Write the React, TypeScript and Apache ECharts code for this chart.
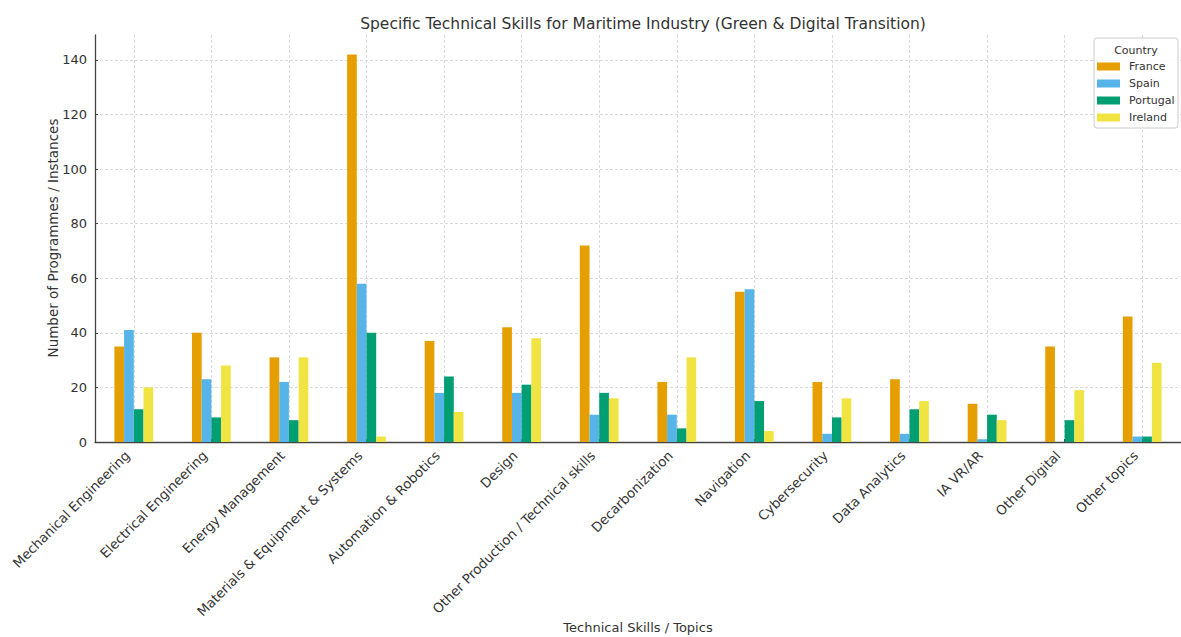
import React, { useEffect, useRef } from "react";
import * as echarts from "echarts";

const categories = [
  "Mechanical Engineering",
  "Electrical Engineering",
  "Energy Management",
  "Materials & Equipment & Systems",
  "Automation & Robotics",
  "Design",
  "Other Production / Technical skills",
  "Decarbonization",
  "Navigation",
  "Cybersecurity",
  "Data Analytics",
  "IA VR/AR",
  "Other Digital",
  "Other topics",
];

const france = [35, 40, 31, 142, 37, 42, 72, 22, 55, 22, 23, 14, 35, 46];
const spain = [41, 23, 22, 58, 18, 18, 10, 10, 56, 3, 3, 1, 0, 2];
const portugal = [12, 9, 8, 40, 24, 21, 18, 5, 15, 9, 12, 10, 8, 2];
const ireland = [20, 28, 31, 2, 11, 38, 16, 31, 4, 16, 15, 8, 19, 29];

const countries = ["France", "Spain", "Portugal", "Ireland"];
const colors = ["#E69F00", "#56B4E9", "#009E73", "#F0E442"];
const yTicks = [0, 20, 40, 60, 80, 100, 120, 140];
const xAxisTitle = "Technical Skills / Topics";
const yAxisTitle = "Number of Programmes / Instances";

export default function App() {
  const ref = useRef<HTMLDivElement>(null);
  useEffect(() => {
    document.body.style.margin = "0";
    const chart = echarts.init(ref.current!, null, { renderer: "svg" });
    const seriesData = [france, spain, portugal, ireland];
    const gridColor = "#d0d0d0";
    const splitColors = yTicks.map((v) => (v === 0 ? "transparent" : gridColor));
    splitColors.push("transparent");
    chart.setOption({
      animation: false,
      textStyle: { fontFamily: "DejaVu Sans" },
      title: {
        text: "Specific Technical Skills for Maritime Industry (Green & Digital Transition)",
        left: 638,
        top: 11,
        textAlign: "center",
        textStyle: { fontSize: 15.5, fontWeight: "normal", color: "#333", fontFamily: "DejaVu Sans" },
      },
      grid: {
        left: 95,
        top: 35,
        width: 1086,
        height: 407,
        containLabel: false,
        outerBoundsMode: "none",
      },
      legend: {
        orient: "vertical",
        left: 1097,
        top: 60,
        padding: 0,
        itemWidth: 23,
        itemHeight: 8,
        itemGap: 4,
        icon: "rect",
        data: countries,
        textStyle: { fontSize: 11, color: "#333", lineHeight: 13, fontFamily: "DejaVu Sans", padding: [0, 0, 0, 4] },
        z: 5,
      },
      graphic: [
        {
          type: "rect",
          z: 3,
          shape: { x: 1094, y: 38, width: 84, height: 90, r: 3 },
          style: { fill: "rgba(255,255,255,0.85)", stroke: "#cccccc", lineWidth: 1 },
        },
        {
          type: "text",
          z: 5,
          x: 1136,
          y: 50,
          style: {
            text: "Country",
            fill: "#333",
            font: "11px 'DejaVu Sans'",
            textAlign: "center",
            textVerticalAlign: "middle",
          },
        },
        {
          type: "text",
          z: 5,
          x: 638,
          y: 627,
          style: {
            text: xAxisTitle,
            fill: "#333",
            font: "13px 'DejaVu Sans'",
            textAlign: "center",
            textVerticalAlign: "middle",
          },
        },
        {
          type: "text",
          z: 5,
          x: 53,
          y: 238,
          rotation: Math.PI / 2,
          style: {
            text: yAxisTitle,
            fill: "#333",
            font: "13.5px 'DejaVu Sans'",
            textAlign: "center",
            textVerticalAlign: "middle",
          },
        },
      ],
      xAxis: {
        type: "category",
        data: categories,
        axisLine: { lineStyle: { color: "#444", width: 1.3 } },
        axisTick: { show: true, inside: true, length: 3, alignWithLabel: true, lineStyle: { color: "#444" } },
        axisLabel: {
          interval: 0,
          rotate: 45,
          fontSize: 13.3,
          color: "#333",
          margin: 5,
          padding: [0, 9, 0, 0],
          fontFamily: "DejaVu Sans",
        },
        splitLine: {
          show: true,
          alignWithLabel: true,
          lineStyle: { color: gridColor, type: [3, 2], width: 0.8 },
        },
      },
      yAxis: {
        type: "value",
        min: 0,
        max: 149.1,
        interval: 20,
        axisLine: { show: true, lineStyle: { color: "#444", width: 1.3 } },
        axisTick: { show: true, inside: true, length: 3, customValues: yTicks, lineStyle: { color: "#444" } },
        axisLabel: { fontSize: 13, color: "#333", margin: 8, customValues: yTicks, fontFamily: "DejaVu Sans" },
        splitLine: {
          show: true,
          lineStyle: { color: splitColors, type: [3, 2], width: 0.8 },
        },
      },
      series: countries.map((c, i) => ({
        name: c,
        type: "bar",
        data: seriesData[i],
        barGap: "0%",
        barCategoryGap: "50%",
        itemStyle: { color: colors[i] },
      })),
    });
    return () => chart.dispose();
  }, []);
  return <div ref={ref} style={{ width: 1181, height: 637 }} />;
}
